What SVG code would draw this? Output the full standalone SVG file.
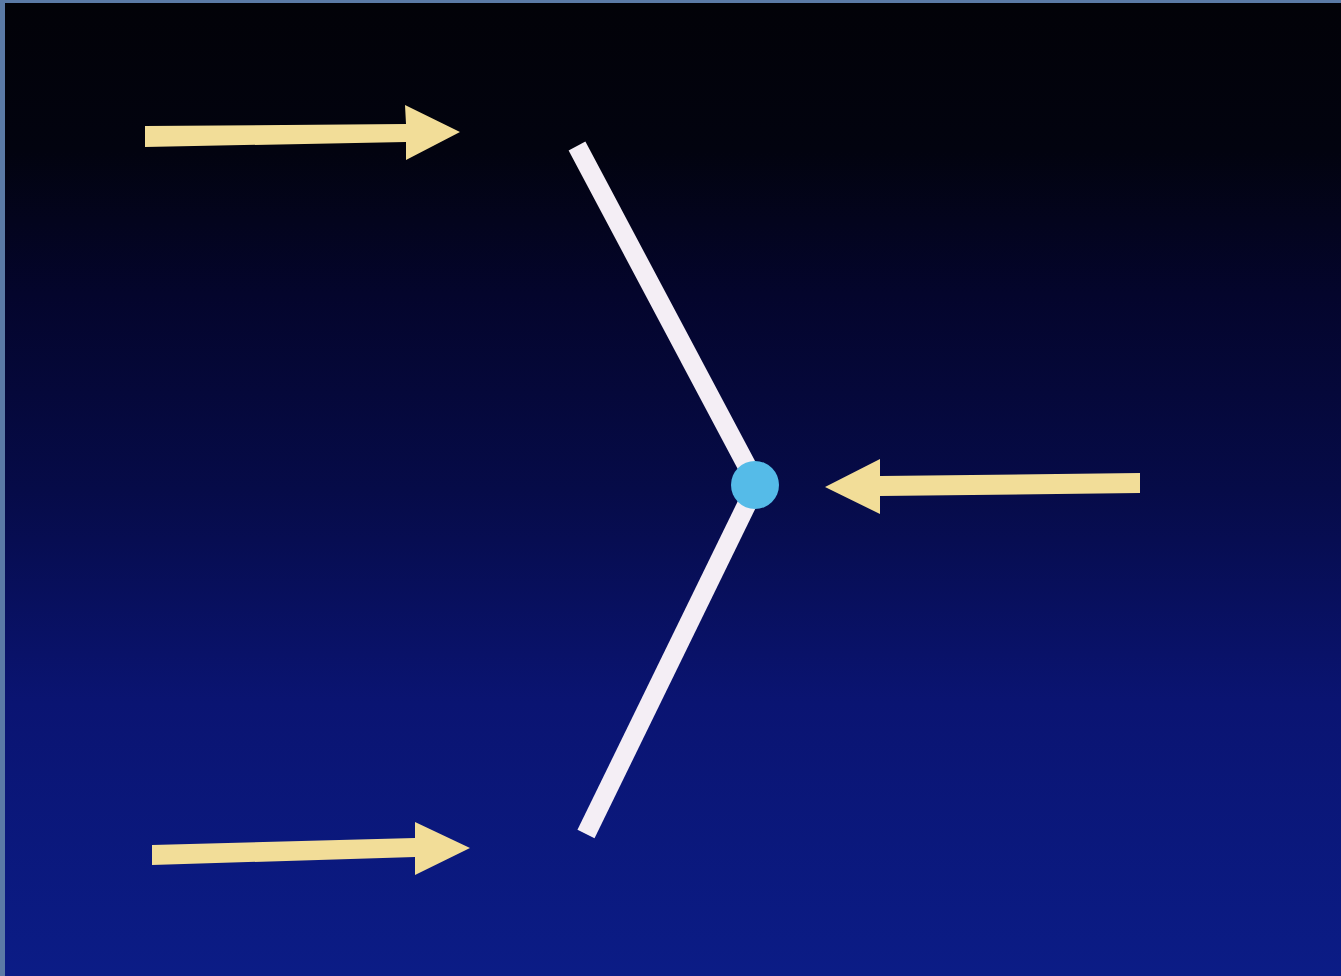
<svg xmlns="http://www.w3.org/2000/svg" width="1341" height="976" viewBox="0 0 1341 976">
<defs>
<linearGradient id="bg" x1="0" y1="0" x2="0" y2="1">
<stop offset="0" stop-color="#020208"/>
<stop offset="0.15" stop-color="#02030f"/>
<stop offset="0.3" stop-color="#04052c"/>
<stop offset="0.5" stop-color="#060b48"/>
<stop offset="0.72" stop-color="#0a1472"/>
<stop offset="1" stop-color="#0b1c86"/>
</linearGradient>
<style>
.arrow{fill:#f2dd98}
.bar{stroke:#f4eef5;stroke-width:19;stroke-linecap:butt;fill:none}
</style>
</defs>
<rect x="0" y="0" width="1341" height="976" fill="#5b7aa6"/>
<rect x="5" y="3" width="1336" height="973" fill="url(#bg)"/>
<g id="beam-top">
<line class="bar" x1="577" y1="146" x2="748" y2="468"/>
</g>
<g id="beam-bottom">
<line class="bar" x1="748" y1="502" x2="586" y2="834"/>
</g>
<g id="joint">
<circle cx="755" cy="485" r="24" fill="#55bbe8"/>
</g>
<g id="connectors">
<g id="arrow-top">
<polygon class="arrow" points="145,126 406,124 405,105 460,132 406,160 406,142 145,147"/>
</g>
<g id="arrow-right">
<polygon class="arrow" points="1140,473 880,476 880,459 825,487 880,514 880,496 1140,493"/>
</g>
<g id="arrow-bottom">
<polygon class="arrow" points="152,845 415,838 415,822 470,848 415,875 415,857 152,865"/>
</g>
</g>
</svg>
